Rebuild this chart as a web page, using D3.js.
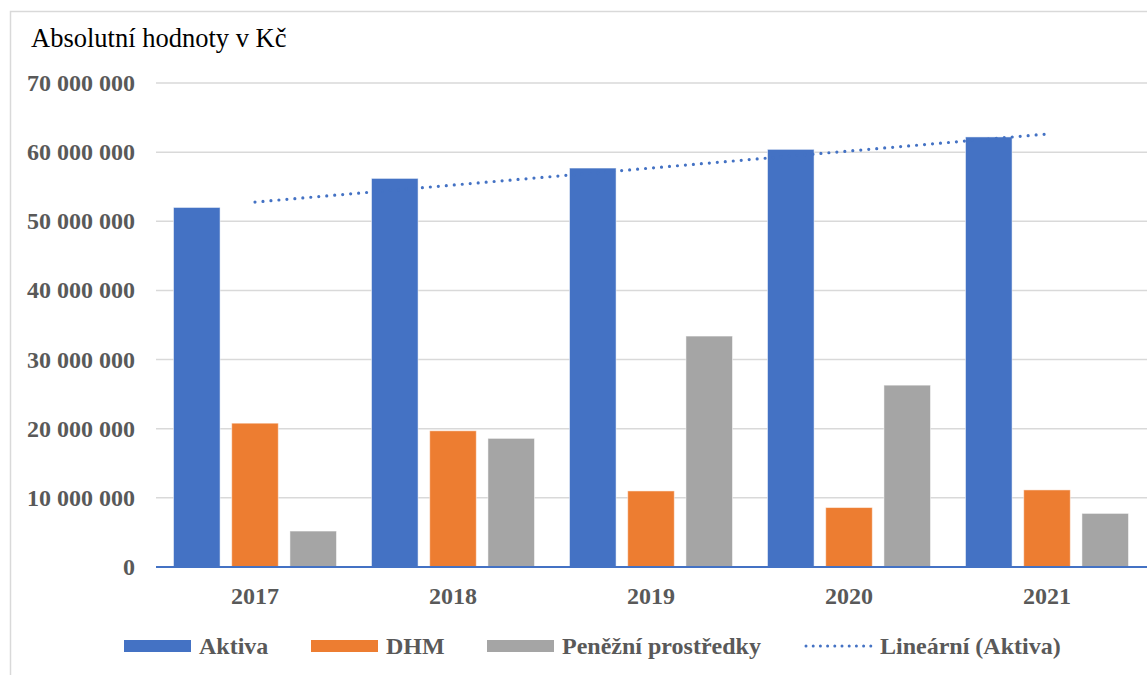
<!DOCTYPE html>
<html>
<head>
<meta charset="utf-8">
<script src="https://cdn.jsdelivr.net/npm/d3@7"></script>
<style>
  body { margin: 0; background: #fff; }
  text { font-family: "Liberation Serif", "Times New Roman", serif; }
</style>
</head>
<body>
<svg width="1147" height="675"></svg>
<script>
(function () {
  "use strict";
  const years = ["2017", "2018", "2019", "2020", "2021"];
  const seriesNames = ["Aktiva", "DHM", "Peněžní prostředky"];
  const aktiva = [52000000, 56200000, 57700000, 60400000, 62200000];
  const dhm = [20800000, 19700000, 11000000, 8600000, 11150000];
  const penezni = [5200000, 18600000, 33400000, 26300000, 7750000];
  const yTicks = [0, 10000000, 20000000, 30000000, 40000000, 50000000, 60000000, 70000000];
  const colors = ["#4472C4", "#ED7D31", "#A5A5A5"];
  const trendName = "Lineární (Aktiva)";

  const svg = d3.select("svg");
  const width = +svg.attr("width");
  const height = +svg.attr("height");
  const margin = { left: 156, right: 1, top: 83, bottom: 108 };

  // chart frame
  svg.append("rect")
    .attr("x", 10.5).attr("y", 11.5)
    .attr("width", width + 10).attr("height", height + 10)
    .attr("fill", "none").attr("stroke", "#d9d9d9").attr("stroke-width", 1.5);

  const y = d3.scaleLinear()
    .domain([0, 70000000])
    .range([height - margin.bottom, margin.top]);

  const x0 = d3.scaleBand()
    .domain(years)
    .range([margin.left, width - margin.right]);

  const groupW = 163;
  const x1 = d3.scaleBand()
    .domain(seriesNames)
    .range([(x0.bandwidth() - groupW) / 2, (x0.bandwidth() + groupW) / 2])
    .paddingInner(0.2);

  const fmt = v => d3.format(",")(v).replace(/,/g, " ");

  // gridlines
  svg.append("g")
    .selectAll("line")
    .data(yTicks.filter(d => d > 0))
    .join("line")
    .attr("x1", margin.left).attr("x2", width)
    .attr("y1", d => y(d)).attr("y2", d => y(d))
    .attr("stroke", "#d9d9d9").attr("stroke-width", 1.5);

  // y labels
  svg.append("g")
    .selectAll("text")
    .data(yTicks)
    .join("text")
    .attr("x", 135)
    .attr("y", d => y(d) + 8)
    .attr("text-anchor", "end")
    .attr("font-size", 24)
    .attr("font-weight", "bold")
    .attr("fill", "#595959")
    .text(fmt);

  svg.append("text")
    .attr("x", 31).attr("y", 47)
    .attr("font-size", 26.5)
    .attr("fill", "#000")
    .text("Absolutní hodnoty v Kč");

  // bars
  const rows = years.map((yr, i) => ({
    year: yr,
    vals: [aktiva[i], dhm[i], penezni[i]]
  }));
  const groups = svg.append("g")
    .selectAll("g")
    .data(rows)
    .join("g")
    .attr("transform", d => `translate(${x0(d.year)},0)`);
  groups.selectAll("rect")
    .data(d => d.vals.map((v, k) => ({ name: seriesNames[k], v, k })))
    .join("rect")
    .attr("x", d => x1(d.name))
    .attr("width", x1.bandwidth())
    .attr("y", d => y(d.v))
    .attr("height", d => y(0) - y(d.v))
    .attr("fill", d => colors[d.k])
    .attr("stroke", "#fff").attr("stroke-opacity", 0.5).attr("stroke-width", 1);

  // x axis line
  svg.append("line")
    .attr("x1", margin.left).attr("x2", width)
    .attr("y1", y(0)).attr("y2", y(0))
    .attr("stroke", "#4472C4").attr("stroke-width", 2.2);

  svg.append("g")
    .selectAll("text")
    .data(years)
    .join("text")
    .attr("x", d => x0(d) + x0.bandwidth() / 2)
    .attr("y", 604)
    .attr("text-anchor", "middle")
    .attr("font-size", 24)
    .attr("font-weight", "bold")
    .attr("fill", "#595959")
    .text(d => d);

  // linear trend of Aktiva (least squares)
  const n = aktiva.length;
  const xs = d3.range(1, n + 1);
  const mx = d3.mean(xs), my = d3.mean(aktiva);
  const slope = d3.sum(xs, (v, i) => (v - mx) * (aktiva[i] - my)) / d3.sum(xs, v => (v - mx) ** 2);
  const icpt = my - slope * mx;
  const cx = yr => x0(yr) + x0.bandwidth() / 2;
  svg.append("line")
    .attr("x1", cx(years[0])).attr("y1", y(icpt + slope * 1))
    .attr("x2", cx(years[n - 1])).attr("y2", y(icpt + slope * n))
    .attr("stroke", "#4472C4").attr("stroke-width", 3.2)
    .attr("stroke-linecap", "round")
    .attr("stroke-dasharray", "0 8");

  // legend
  const legend = [
    { label: seriesNames[0], x: 124, color: colors[0], type: "rect" },
    { label: seriesNames[1], x: 311, color: colors[1], type: "rect" },
    { label: seriesNames[2], x: 487, color: colors[2], type: "rect" },
    { label: trendName, x: 805, color: colors[0], type: "line" }
  ];
  const lg = svg.append("g")
    .selectAll("g")
    .data(legend)
    .join("g")
    .attr("transform", d => `translate(${d.x},646)`);
  lg.filter(d => d.type === "rect").append("rect")
    .attr("x", 0).attr("y", -6).attr("width", 67).attr("height", 12)
    .attr("fill", d => d.color);
  lg.filter(d => d.type === "line").append("line")
    .attr("x1", 1).attr("x2", 66).attr("y1", 0).attr("y2", 0)
    .attr("stroke", d => d.color).attr("stroke-width", 3)
    .attr("stroke-linecap", "round").attr("stroke-dasharray", "0 7.2");
  lg.append("text")
    .attr("x", 75).attr("y", 8)
    .attr("font-size", 24)
    .attr("font-weight", "bold")
    .attr("fill", "#595959")
    .text(d => d.label);
})(d3);
</script>
</body>
</html>
